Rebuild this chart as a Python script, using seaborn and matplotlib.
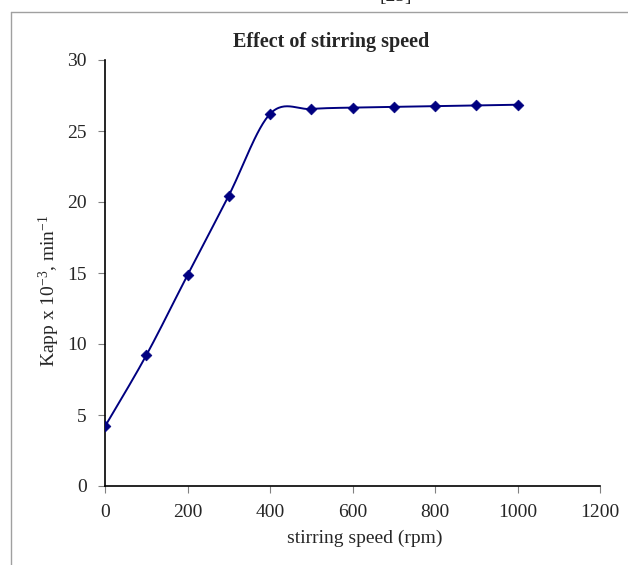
import numpy as np
import pandas as pd
import matplotlib
matplotlib.use("Agg")
import matplotlib.pyplot as plt
import seaborn as sns
from matplotlib.lines import Line2D

# Data
speed = [0, 100, 200, 300, 400, 500, 600, 700, 800, 900, 1000]
kapp = [4.2, 9.2, 14.85, 20.45, 26.2, 26.55, 26.65, 26.7, 26.75, 26.8, 26.85]
x_ticks = [0, 200, 400, 600, 800, 1000, 1200]
y_ticks = [0, 5, 10, 15, 20, 25, 30]

df = pd.DataFrame({"speed": speed, "kapp": kapp})

sns.set_style("ticks")
plt.rcParams["font.family"] = ["Liberation Serif", "DejaVu Serif"]
plt.rcParams["mathtext.fontset"] = "custom"
plt.rcParams["mathtext.rm"] = "Liberation Serif"
plt.rcParams["mathtext.it"] = "Liberation Serif:italic"


def smooth_path(x, y, n=30):
    # Excel-style smoothed line: cubic Bezier segments through the points
    x = np.asarray(x, float)
    y = np.asarray(y, float)
    px, py = [], []
    for i in range(len(x) - 1):
        x0, y0 = x[i], y[i]
        x3, y3 = x[i + 1], y[i + 1]
        xa, ya = (x[i - 1], y[i - 1]) if i > 0 else (x0, y0)
        xb, yb = (x[i + 2], y[i + 2]) if i + 2 < len(x) else (x3, y3)
        x1, y1 = x0 + (x3 - xa) / 6, y0 + (y3 - ya) / 6
        x2, y2 = x3 - (xb - x0) / 6, y3 - (yb - y0) / 6
        t = np.linspace(0, 1, n)
        b0, b1, b2, b3 = (1 - t) ** 3, 3 * t * (1 - t) ** 2, 3 * t ** 2 * (1 - t), t ** 3
        px.extend(b0 * x0 + b1 * x1 + b2 * x2 + b3 * x3)
        py.extend(b0 * y0 + b1 * y1 + b2 * y2 + b3 * y3)
    return pd.DataFrame({"speed": px, "kapp": py})


curve = smooth_path(df["speed"], df["kapp"])

fig = plt.figure(figsize=(6.28, 5.65), dpi=100)
ax = fig.add_axes([105 / 628, 1 - 486 / 565, 495 / 628, 426 / 565])

sns.lineplot(data=curve, x="speed", y="kapp", ax=ax, color="#000080",
             linewidth=1.4, sort=False, estimator=None)
sns.scatterplot(data=df, x="speed", y="kapp", ax=ax, marker="D", s=30,
                color="#000080", edgecolor="#000080", linewidth=0.5, zorder=3)

ax.set_xlim(0, 1200)
ax.set_ylim(0, 30)
ax.set_xticks(x_ticks)
ax.set_yticks(y_ticks)
ax.tick_params(axis="both", direction="out", length=5, width=0.8,
               color="#808080", labelsize=14, pad=8)
for side in ["top", "right"]:
    ax.spines[side].set_visible(False)
for side in ["left", "bottom"]:
    ax.spines[side].set_color("black")
    ax.spines[side].set_linewidth(1.2)

ax.set_xlabel("stirring speed (rpm)", fontsize=14)
ax.xaxis.set_label_coords(0.525, -0.103)
ax.set_ylabel(r"Kapp x 10$^{-3}$, min$^{-1}$", fontsize=14)
ax.yaxis.set_label_coords(-0.087, 0.458)

fig.text(331 / 628, 1 - 42 / 565, "Effect of stirring speed", ha="center",
         va="center", fontsize=14.5, fontweight="bold")

# outer frame (partial, as in the cropped source)
fig.add_artist(Line2D([11 / 628, 1], [1 - 12 / 565, 1 - 12 / 565],
                      transform=fig.transFigure, color="#a0a0a0", linewidth=1))
fig.add_artist(Line2D([11 / 628, 11 / 628], [0, 1 - 12 / 565],
                      transform=fig.transFigure, color="#a0a0a0", linewidth=1))
fig.text(396 / 628, 1 + 4 / 565, "[25]", ha="center", va="center", fontsize=14)

fig.savefig("out.png", dpi=100)
